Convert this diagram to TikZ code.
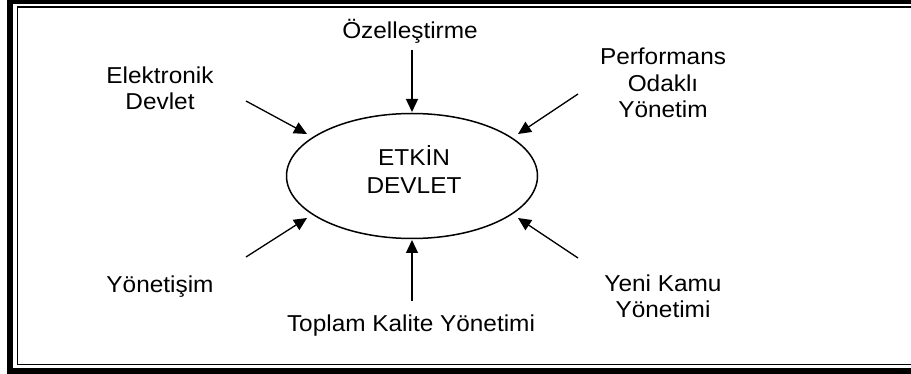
\documentclass[tikz,border=0pt]{standalone}
\usepackage{fontspec}
\setmainfont[FakeStretch=1.06]{Liberation Sans}
\usetikzlibrary{shapes.geometric,arrows.meta}
\begin{document}
\begin{tikzpicture}[x=1pt,y=-1pt,
  label/.style={inner sep=0pt, align=center, anchor=base,
    font=\fontsize{23}{26.7}\selectfont},
  inflow/.style={line width=1.3pt, -{Triangle[length=13pt,width=12pt]}}]
  \useasboundingbox (0,0) rectangle (911,374);
  \fill[white] (0,0) rectangle (911,374);
  \begin{scope}
    \clip (0,0) rectangle (911,374);
    % double frame: heavy outer line, thin inner line
    \draw[line width=5.5pt] (10,1.5) rectangle (930,371);
    \draw[line width=1.6pt] (17.5,7) rectangle (930,364.5);
  \end{scope}

  % central ellipse
  \node[ellipse, draw, line width=1.5pt, minimum width=251pt, minimum height=125pt,
        inner sep=0pt] (e) at (412,176) {};
  % multi-line labels are anchored at the baseline of their last line
  \node[label, font=\fontsize{23}{28}\selectfont] (etkin) at (414,194) {ETKİN\\DEVLET};

  % surrounding labels
  \node[label] (ozel) at (410,39) {Özelleştirme};
  \node[label] (elek) at (160,110) {Elektronik\\Devlet};
  \node[label] (perf) at (663,118) {Performans\\Odaklı\\Yönetim};
  \node[label] (yonetisim) at (160,293) {Yönetişim};
  \node[label] (toplam) at (411,331) {Toplam Kalite Yönetimi};
  \node[label] (yeni) at (663,318) {Yeni Kamu\\Yönetimi};

  % arrow end points
  \coordinate (s1) at (412,50);   \coordinate (t1) at (412,112);
  \coordinate (s2) at (412,301);  \coordinate (t2) at (412,240);
  \coordinate (s3) at (246,101);  \coordinate (t3) at (307,134);
  \coordinate (s4) at (578,94);   \coordinate (t4) at (518,134);
  \coordinate (s5) at (246,257);  \coordinate (t5) at (307,218);
  \coordinate (s6) at (578,258);  \coordinate (t6) at (518,218);

  \draw[inflow] (s1) -- (t1);
  \draw[inflow] (s2) -- (t2);
  \draw[inflow] (s3) -- (t3);
  \draw[inflow] (s4) -- (t4);
  \draw[inflow] (s5) -- (t5);
  \draw[inflow] (s6) -- (t6);
\end{tikzpicture}
\end{document}
